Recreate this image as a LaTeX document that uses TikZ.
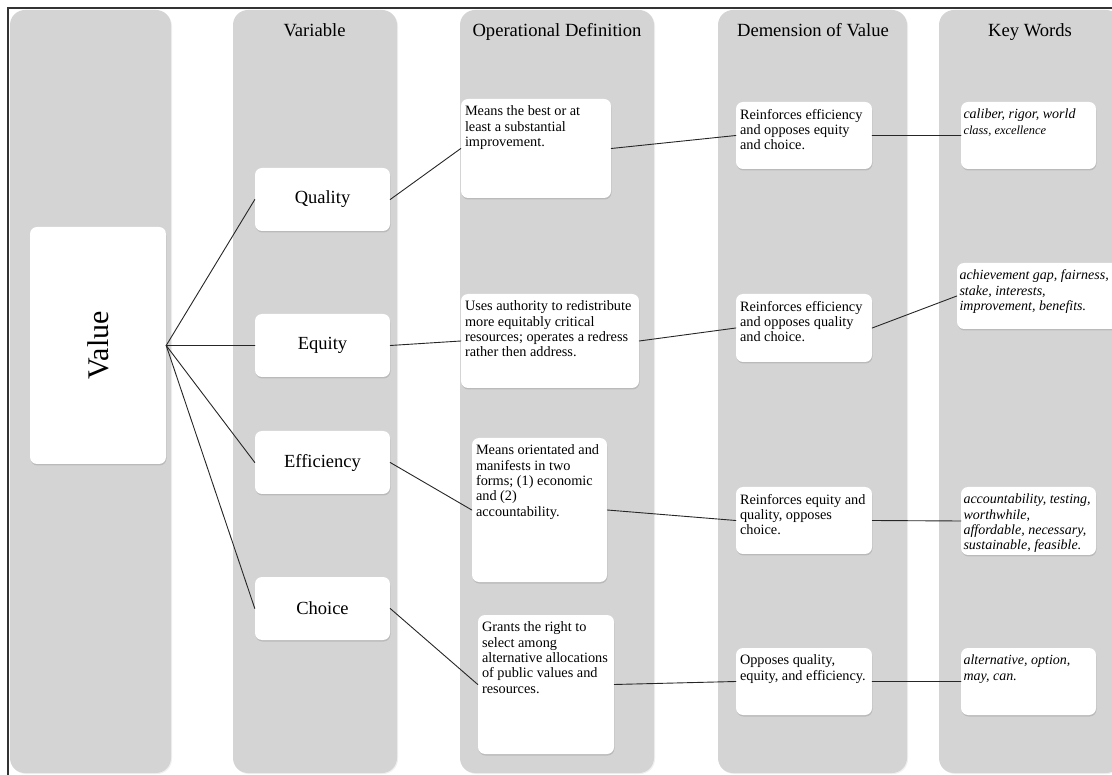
\documentclass[tikz,border=0pt]{standalone}
\usepackage{fontspec}
\setmainfont{Liberation Serif}
\usepackage{graphicx}
\usetikzlibrary{shadows}
\definecolor{bandgray}{RGB}{212,212,212}

% top aligned text inside a card: width, height, text
\newcommand{\cardtext}[3]{\parbox[c][#2][t]{#1}{\raggedright\vspace*{7pt}#3}}

\begin{document}
\begin{tikzpicture}[x=1pt, y=-1pt, line cap=round,
    band/.style={fill=bandgray, rounded corners=15pt,
        drop shadow={shadow xshift=1pt, shadow yshift=-1pt, opacity=0.12}},
    header/.style={anchor=base, font=\fontsize{18.6}{21}\selectfont},
    card/.style={fill=white, rounded corners=7pt, inner xsep=4pt, inner ysep=0pt,
        drop shadow={shadow xshift=0.5pt, shadow yshift=-1.5pt, opacity=0.3},
        font=\fontsize{14.3}{15.3}\selectfont},
    keycard/.style={card, inner xsep=2.5pt, font=\fontsize{14}{15.3}\selectfont\itshape},
    varbox/.style={card, inner sep=0pt, minimum width=135, minimum height=63,
        font=\fontsize{18.5}{22}\selectfont},
    valuebox/.style={card, inner sep=0pt, minimum width=136, minimum height=237,
        font=\fontsize{30}{32}\selectfont},
    link/.style={draw=black!85, line width=0.9pt}]
    \useasboundingbox (0,0) rectangle (1112,775);

    % Columns
    \path[band] (10,10) rectangle (171,773);
    \path[band] (233,10) rectangle (397,773);
    \path[band] (460,10) rectangle (654,773);
    \path[band] (718,10) rectangle (907,773);
    \path[band] (939,10) rectangle (1121,773);

    % Headers
    \node[header] (hvar) at (314.5,37) {Variable};
    \node[header] (hop) at (557,37) {Operational Definition};
    \node[header] (hdem) at (813,37) {Demension of Value};
    \node[header] (hkey) at (1030,37) {Key Words};

    % Value
    \node[valuebox] (value) at (98,345.5) {\rotatebox{90}{Value}};

    % Variables
    \node[varbox] (quality) at (322.5,199.5) {Quality};
    \node[varbox] (equity) at (322.5,345.5) {Equity};
    \node[varbox] (efficiency) at (322.5,462.5) {Efficiency};
    \node[varbox] (choice) at (322.5,608.5) {Choice};

    % Operational definitions
    \node[card] (opqual) at (536,148.5)
        {\cardtext{142pt}{99pt}{Means the best or at\\ least a substantial\\ improvement.}};
    \node[card] (opequi) at (550,341)
        {\cardtext{170pt}{94pt}{Uses authority to redistribute\\ more equitably critical\\ resources; operates a redress\\ rather then address.}};
    \node[card] (opeffi) at (539.5,510)
        {\cardtext{127pt}{144pt}{Means orientated and\\ manifests in two\\ forms; (1) economic\\ and (2)\\ accountability.}};
    \node[card] (opchoi) at (546,684.5)
        {\cardtext{128pt}{139pt}{Grants the right to\\ select among\\ alternative allocations\\ of public values and\\ resources.}};

    % Dimensions of value
    \node[card] (dmqual) at (804,135.5)
        {\cardtext{128pt}{67pt}{Reinforces efficiency\\ and opposes equity\\ and choice.}};
    \node[card] (dmequi) at (804,328)
        {\cardtext{128pt}{68pt}{Reinforces efficiency\\ and opposes quality\\ and choice.}};
    \node[card] (dmeffi) at (804,520.5)
        {\cardtext{128pt}{67pt}{Reinforces equity and\\ quality, opposes\\ choice.}};
    \node[card] (dmchoi) at (804,681.5)
        {\cardtext{128pt}{67pt}{Opposes quality,\\ equity, and efficiency.}};

    % Key words
    \node[keycard] (kwqual) at (1028.5,135.5)
        {\cardtext{130pt}{67pt}{caliber, rigor, world\\ {\fontsize{12.4}{14}\selectfont class, excellence}}};
    \node[keycard] (kwequi) at (1039.5,296)
        {\cardtext{160pt}{66pt}{achievement gap, fairness,\\ stake, interests,\\ improvement, benefits.}};
    \node[keycard] (kweffi) at (1028.5,521)
        {\cardtext{130pt}{68pt}{accountability, testing,\\ worthwhile,\\ affordable, necessary,\\ sustainable, feasible.}};
    \node[keycard] (kwchoi) at (1028.5,681.5)
        {\cardtext{130pt}{67pt}{alternative, option,\\ may, can.}};

    % Links from value
    \draw[link] (value.east) -- (quality.west);
    \draw[link] (value.east) -- (equity.west);
    \draw[link] (value.east) -- (efficiency.west);
    \draw[link] (value.east) -- (choice.west);

    % Links along each row
    \draw[link] (quality.east) -- (opqual.west);
    \draw[link] (equity.east) -- (opequi.west);
    \draw[link] (efficiency.east) -- (opeffi.west);
    \draw[link] (choice.east) -- (opchoi.west);

    \draw[link] (opqual.east) -- (dmqual.west);
    \draw[link] (opequi.east) -- (dmequi.west);
    \draw[link] (opeffi.east) -- (dmeffi.west);
    \draw[link] (opchoi.east) -- (dmchoi.west);

    \draw[link] (dmqual.east) -- (kwqual.west);
    \draw[link] (dmequi.east) -- (kwequi.west);
    \draw[link] (dmeffi.east) -- (kweffi.west);
    \draw[link] (dmchoi.east) -- (kwchoi.west);

    % Frame
    \draw[line width=1.2pt, black!80] (8,775) -- (8,8) -- (1112,8);
\end{tikzpicture}
\end{document}
